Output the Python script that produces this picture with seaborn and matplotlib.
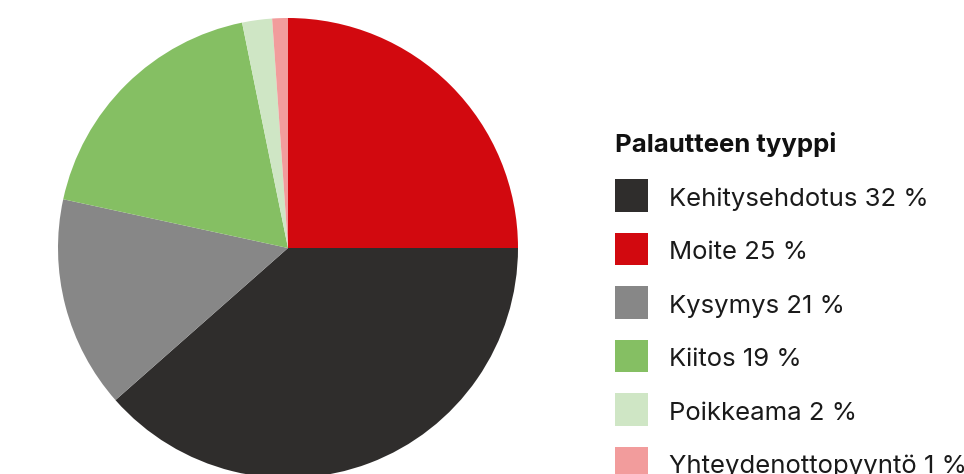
import matplotlib.pyplot as plt
from matplotlib.patches import Rectangle
import seaborn as sns

# Data (slice sizes as drawn, clockwise from 12 o'clock)
pie_categories = ["Moite", "Kehitysehdotus", "Kysymys", "Kiitos", "Poikkeama", "Yhteydenottopyyntö"]
pie_shares = [25.0, 38.5, 14.9, 18.4, 2.1, 1.1]
pie_colors = ["#d2090f", "#2f2d2c", "#878787", "#85bf63", "#cfe6c5", "#f29c9c"]

# Legend entries (as printed in the picture)
legend_order = ["Kehitysehdotus", "Moite", "Kysymys", "Kiitos", "Poikkeama", "Yhteydenottopyyntö"]
legend_percent = [32, 25, 21, 19, 2, 1]

sns.set_theme(style="white")
plt.rcParams["font.family"] = ["Inter", "DejaVu Sans"]

W, H = 964, 474
fig = plt.figure(figsize=(W / 100, H / 100), dpi=100)
ax = fig.add_axes([0, 0, 1, 1])

wedges, _ = ax.pie(pie_shares, colors=pie_colors, startangle=90, counterclock=False,
                   center=(288, H - 248), radius=230, frame=True,
                   wedgeprops=dict(linewidth=0))
ax.set_xlim(0, W)
ax.set_ylim(0, H)
ax.set_aspect("equal")
ax.axis("off")

# Legend drawn in pixel coordinates (y measured from the top)
fs = 18.5
ax.text(615, H - 152, "Palautteen tyyppi", fontsize=fs, fontweight="bold",
        color="#111111", ha="left", va="baseline")

box = 32.7
step = 53.5
for i, (cat, pct) in enumerate(zip(legend_order, legend_percent)):
    top = 179 + i * step
    color = pie_colors[pie_categories.index(cat)]
    ax.add_patch(Rectangle((615, H - top - box), box, box, facecolor=color,
                           edgecolor="none", clip_on=False))
    ax.text(669, H - (top + 26.5), f"{cat} {pct} %", fontsize=fs,
            color="#1a1a1a", ha="left", va="baseline")

fig.savefig("out.png", dpi=100)
